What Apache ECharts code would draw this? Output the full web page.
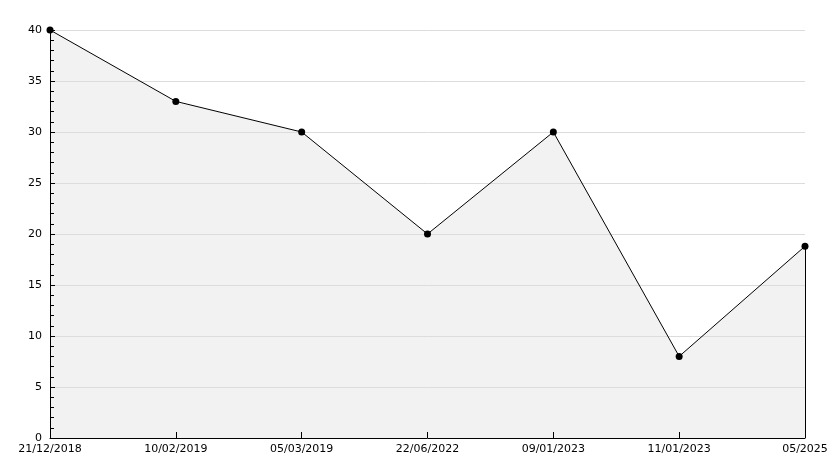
<!DOCTYPE html>
<html><head><meta charset="utf-8">
<script src="https://cdn.jsdelivr.net/npm/echarts@6/dist/echarts.min.js"></script>
<style>html,body{margin:0;padding:0;background:#fff}#c{width:834px;height:468px}</style>
</head><body><div id="c"></div>
<script>
const categories = ['21/12/2018','10/02/2019','05/03/2019','22/06/2022','09/01/2023','11/01/2023','05/2025'];
const values = [40, 33, 30, 20, 30, 8, 18.8];
const yTicks = {min: 0, max: 40, interval: 5};

const chart = echarts.init(document.getElementById('c'), null, {renderer: 'canvas'});
const font = 'DejaVu Sans';
const last = categories.length - 1;
chart.setOption({
  animation: false,
  backgroundColor: '#fff',
  grid: {left: 50, right: 29, top: 30, bottom: 30, containLabel: false},
  xAxis: {
    type: 'category', data: categories, boundaryGap: false, z: 5,
    axisLine: {lineStyle: {color: '#000', width: 1}},
    axisTick: {inside: true, length: 6, alignWithLabel: true, lineStyle: {color: '#000'}},
    axisLabel: {color: '#000', fontFamily: font, fontSize: 11, margin: 6, interval: 0},
    splitLine: {show: false}
  },
  yAxis: {
    type: 'value', min: yTicks.min, max: yTicks.max, interval: yTicks.interval, z: 5,
    axisLine: {show: true, lineStyle: {color: '#000', width: 1}},
    axisTick: {show: true, inside: true, length: 5, lineStyle: {color: '#000'}},
    minorTick: {show: true, splitNumber: 5, length: 4, lineStyle: {color: '#000'}},
    axisLabel: {color: '#000', fontFamily: font, fontSize: 11, margin: 8},
    splitLine: {show: true, lineStyle: {color: '#dcdcdc', width: 1}}
  },
  series: [{
    type: 'line', data: values, z: 1,
    symbol: 'none',
    lineStyle: {width: 0, opacity: 0},
    areaStyle: {color: '#f2f2f2', opacity: 1}
  }, {
    type: 'line', data: values, z: 10,
    symbol: 'circle', symbolSize: 7,
    itemStyle: {color: '#000'},
    lineStyle: {color: '#000', width: 1},
    markLine: {
      silent: true, symbol: 'none', label: {show: false},
      lineStyle: {color: '#000', width: 1, type: 'solid'},
      data: [[{coord: [last, 0]}, {coord: [last, values[last]]}]]
    }
  }]
});
</script></body></html>
